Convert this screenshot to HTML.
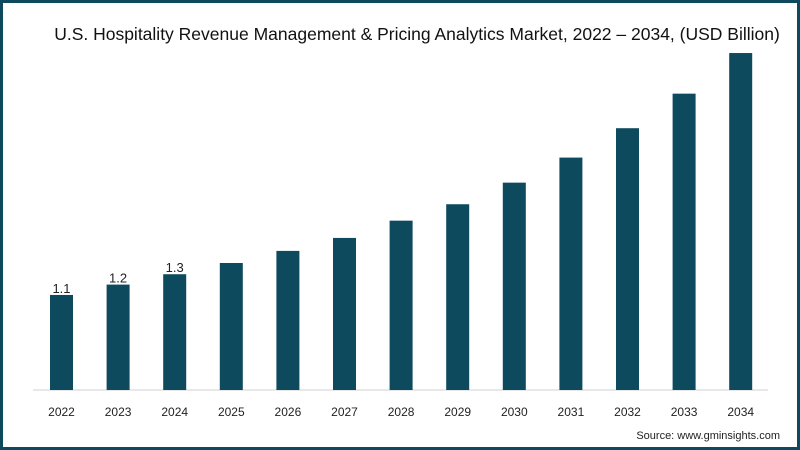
<!DOCTYPE html>
<html><head><meta charset="utf-8"><style>
html,body{margin:0;padding:0;background:#fff}
#wrap{position:relative;width:800px;height:450px;box-sizing:border-box;border:3px solid #0d4a5e;background:#fff;font-family:"Liberation Sans",sans-serif}
</style></head><body>
<div id="wrap">
<svg id="chart" width="794" height="444" style="position:absolute;left:0;top:0">
<text x="414" y="37" text-anchor="middle" font-size="17.5" fill="#111">U.S. Hospitality Revenue Management &amp; Pricing Analytics Market, 2022 – 2034, (USD Billion)</text>
<line x1="30" x2="765" y1="387" y2="387" stroke="#d0d0d0" stroke-width="1"/>
<g id="bars"></g>
<text x="777" y="436" text-anchor="end" font-size="11" fill="#222">Source: www.gminsights.com</text>
</svg>
</div>
<script>
const categories=["2022","2023","2024","2025","2026","2027","2028","2029","2030","2031","2032","2033","2034"];
const values=[1.1,1.22,1.34,1.47,1.61,1.76,1.96,2.15,2.4,2.69,3.03,3.43,3.9];
const labels=["1.1","1.2","1.3","","","","","","","","","",""];
const baseY=387, pxPerUnit=86.4, x0=47, step=56.6, barW=23;
const xScale=i=>x0+i*step;
const yScale=v=>baseY-v*pxPerUnit;
const g=document.getElementById('bars');
const ns="http://www.w3.org/2000/svg";
categories.forEach((c,i)=>{
  const r=document.createElementNS(ns,'rect');
  r.setAttribute('x',xScale(i));r.setAttribute('y',yScale(values[i]));
  r.setAttribute('width',barW);r.setAttribute('height',baseY-yScale(values[i]));
  r.setAttribute('fill','#0d4a5e');
  
  
  g.appendChild(r);
  const t=document.createElementNS(ns,'text');
  t.setAttribute('x',xScale(i)+barW/2);t.setAttribute('y',413);
  t.setAttribute('text-anchor','middle');t.setAttribute('font-size','12');t.setAttribute('fill','#222');
  t.textContent=c;
  
  
  g.appendChild(t);
  if(labels[i]){
    const l=document.createElementNS(ns,'text');
    l.setAttribute('x',xScale(i)+barW/2);l.setAttribute('y',yScale(values[i])-2);
    l.setAttribute('text-anchor','middle');l.setAttribute('font-size','13');l.setAttribute('fill','#222');
    l.textContent=labels[i];
    
    
    g.appendChild(l);
  }
});
</script>
</body></html>
